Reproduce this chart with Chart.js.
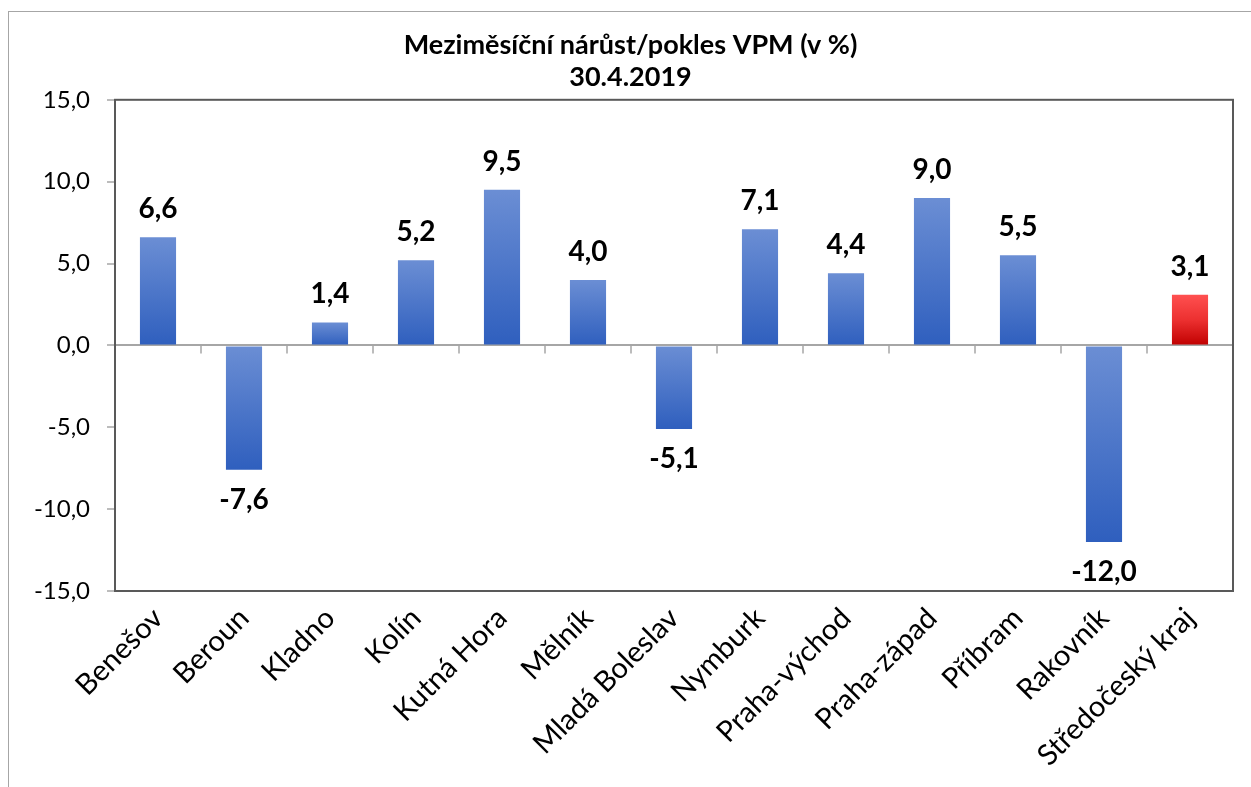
<!doctype html>
<html>
<head>
<meta charset="utf-8">
<title>Meziměsíční nárůst/pokles VPM</title>
<script src="https://cdn.jsdelivr.net/npm/chart.js@4.4.1/dist/chart.umd.min.js"></script>
<style>
  body { margin: 0; background: #fff; overflow: hidden; }
  #box { position: absolute; left: 8px; top: 11px; width: 1250px; height: 790px;
         border-top: 1px solid #a6a6a6; border-left: 1px solid #a6a6a6; }
  #wrap { position: absolute; left: 0; top: 0; width: 1243px; height: 776px; }
</style>
</head>
<body>
<div id="box"><div id="wrap"><canvas id="myChart"></canvas></div></div>
<script>
  const okresy = ['Benešov', 'Beroun', 'Kladno', 'Kolín', 'Kutná Hora', 'Mělník', 'Mladá Boleslav',
    'Nymburk', 'Praha-východ', 'Praha-západ', 'Příbram', 'Rakovník', 'Středočeský kraj'];
  const zmena = [6.6, -7.6, 1.4, 5.2, 9.5, 4.0, -5.1, 7.1, 4.4, 9.0, 5.5, -12.0, 3.1];
  const kraj = 'Středočeský kraj';
  const nadpis = ['Meziměsíční nárůst/pokles VPM (v %)', '30.4.2019'];

  const FONT = 'Lato';
  const fmt = v => v.toFixed(1).replace('.', ',');

  function barFill(c) {
    const chart = c.chart;
    const y = chart.scales.y;
    if (!y || !chart.chartArea) return '#4472c4';
    const v = zmena[c.dataIndex];
    const top = y.getPixelForValue(Math.max(v, 0));
    const bot = y.getPixelForValue(Math.min(v, 0));
    const g = chart.ctx.createLinearGradient(0, top, 0, bot);
    if (okresy[c.dataIndex] === kraj) {
      g.addColorStop(0, '#ff5050');
      g.addColorStop(0.5, '#ec3030');
      g.addColorStop(1, '#c00000');
    } else {
      g.addColorStop(0, '#6b8ed4');
      g.addColorStop(1, '#2f5fbe');
    }
    return g;
  }

  // ramecek plochy grafu + carky na nulove ose + popisky hodnot
  const extras = {
    id: 'extras',
    beforeDatasetsDraw(chart) {
      const {ctx, scales: {x, y}} = chart;
      const y0 = y.getPixelForValue(0);
      const half = (x.getPixelForValue(1) - x.getPixelForValue(0)) / 2;
      ctx.save();
      ctx.strokeStyle = '#a6a6a6';
      ctx.lineWidth = 1.5;
      for (let i = 0; i <= okresy.length; i++) {
        const px = x.getPixelForValue(i) - half;
        ctx.beginPath();
        ctx.moveTo(px, y0);
        ctx.lineTo(px, y0 + 8);
        ctx.stroke();
      }
      ctx.restore();
    },
    afterDatasetsDraw(chart) {
      const {ctx, chartArea: a} = chart;
      ctx.save();
      ctx.strokeStyle = '#595959';
      ctx.lineWidth = 2;
      ctx.strokeRect(a.left, a.top, a.right - a.left, a.bottom - a.top);
      const size = 28;
      ctx.font = 'bold ' + size + 'px ' + FONT;
      ctx.fillStyle = '#000';
      ctx.textAlign = 'center';
      ctx.textBaseline = 'alphabetic';
      chart.getDatasetMeta(0).data.forEach((bar, i) => {
        const v = zmena[i];
        const ty = v >= 0 ? bar.y - 19 : bar.y + 19 + size * 0.72;
        ctx.fillText(fmt(v), bar.x, ty);
      });
      ctx.restore();
    }
  };

  const ctx = document.getElementById('myChart');
  const myChart = new Chart(ctx, {
    type: 'bar',
    data: {
      labels: okresy,
      datasets: [{
        data: zmena,
        backgroundColor: barFill,
        borderWidth: 0,
        barPercentage: 0.42,
        categoryPercentage: 1
      }]
    },
    options: {
      responsive: true,
      maintainAspectRatio: false,
      animation: false,
      layout: { padding: 0 },
      plugins: {
        legend: { display: false },
        tooltip: { enabled: false },
        title: {
          display: true,
          text: nadpis,
          color: '#000',
          font: { family: FONT, size: 27, weight: 'bold', lineHeight: 1.2 },
          padding: { top: 17, bottom: 6 }
        }
      },
      scales: {
        x: {
          grid: { display: false },
          border: { display: false },
          ticks: {
            color: '#000',
            font: { family: FONT, size: 29 },
            maxRotation: 45,
            minRotation: 45,
            autoSkip: false,
            padding: 2
          },
          afterFit(s) { s.height = 197; }
        },
        y: {
          min: -15,
          max: 15,
          border: { display: false },
          grid: {
            color: c => c.tick && c.tick.value === 0 ? '#a6a6a6' : 'rgba(0,0,0,0)',
            lineWidth: 2,
            tickColor: '#a6a6a6',
            tickWidth: 1.5,
            tickLength: 8
          },
          ticks: {
            stepSize: 5,
            color: '#000',
            padding: 17,
            font: { family: FONT, size: 24 },
            callback: v => fmt(v)
          },
          afterFit(s) { s.width = 106; }
        },
        // prazdny pruh vpravo, aby nadpis zustal na stredu celeho grafu
        yPrava: {
          position: 'right',
          min: -15,
          max: 15,
          grid: { display: false },
          border: { display: false },
          ticks: { display: false },
          afterFit(s) { s.width = 19; }
        }
      }
    },
    plugins: [extras]
  });
</script>
</body>
</html>
